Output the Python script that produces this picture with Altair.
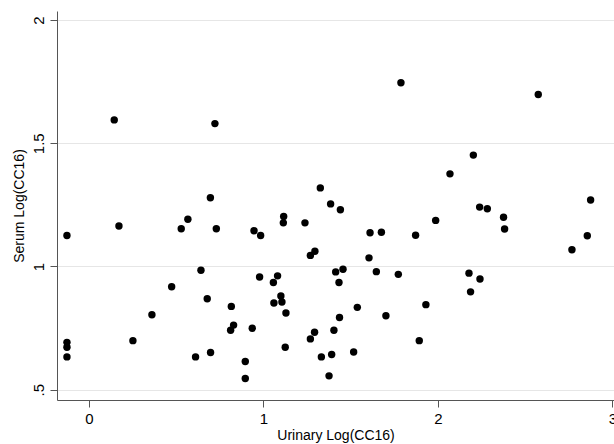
import altair as alt
import pandas as pd

urinary = [-0.126, -0.126, -0.126, -0.126, 0.145, 0.172, 0.252, 0.361, 0.474, 0.529,
           0.567, 0.611, 0.642, 0.678, 0.696, 0.697, 0.722, 0.730, 0.816, 0.829,
           0.812, 0.896, 0.896, 0.936, 0.946, 0.984, 0.978, 1.057, 1.081, 1.100,
           1.060, 1.106, 1.129, 1.116, 1.114, 1.125, 1.238, 1.269, 1.295, 1.269,
           1.293, 1.326, 1.332, 1.376, 1.385, 1.391, 1.404, 1.414, 1.441, 1.433,
           1.436, 1.456, 1.517, 1.538, 1.605, 1.611, 1.647, 1.676, 1.702, 1.773,
           1.788, 1.872, 1.893, 1.931, 1.987, 2.069, 2.178, 2.187, 2.203, 2.239,
           2.241, 2.283, 2.376, 2.382, 2.575, 2.768, 2.856, 2.875]
serum = [1.126, 0.692, 0.672, 0.633, 1.595, 1.164, 0.699, 0.804, 0.918, 1.153,
         1.192, 0.633, 0.985, 0.869, 1.279, 0.651, 1.580, 1.153, 0.838, 0.762,
         0.741, 0.614, 0.545, 0.749, 1.145, 1.126, 0.957, 0.935, 0.962, 0.880,
         0.852, 0.856, 0.811, 1.203, 1.177, 0.672, 1.177, 1.045, 1.062, 0.706,
         0.733, 1.319, 0.633, 0.556, 1.254, 0.643, 0.741, 0.978, 1.230, 0.935,
         0.793, 0.989, 0.653, 0.834, 1.035, 1.137, 0.979, 1.139, 0.800, 0.968,
         1.746, 1.127, 0.699, 0.845, 1.187, 1.376, 0.973, 0.897, 1.452, 1.241,
         0.949, 1.234, 1.200, 1.152, 1.698, 1.068, 1.125, 1.270]

x_ticks = [0, 1, 2, 3]
y_ticks = [0.5, 1, 1.5, 2]

df = pd.DataFrame({"u": urinary, "s": serum})

FONT = "Liberation Sans"

chart = alt.Chart(df).mark_circle(size=55, color="black", opacity=1).encode(
    x=alt.X("u:Q", scale=alt.Scale(domain=[-0.183, 3.009], nice=False, zero=False),
            axis=alt.Axis(values=x_ticks, title="Urinary Log(CC16)", grid=False,
                          tickSize=7, labelFontSize=15, labelPadding=4,
                          titleFontSize=14, titleFontWeight="normal", titlePadding=2,
                          domainColor="#555555", tickColor="#555555",
                          labelColor="black", titleColor="black",
                          labelFont=FONT, titleFont=FONT, format="d")),
    y=alt.Y("s:Q", scale=alt.Scale(domain=[0.458, 2.037], nice=False, zero=False),
            axis=alt.Axis(values=y_ticks, title="Serum Log(CC16)", grid=True,
                          gridColor="#e6e6e6", gridWidth=1,
                          tickSize=7, labelFontSize=15, labelAngle=270,
                          labelAlign="center", labelBaseline="alphabetic", labelPadding=7,
                          labelExpr="datum.value == 0.5 ? '.5' : format(datum.value, '')",
                          titleFontSize=14, titleFontWeight="normal", titlePadding=5,
                          domainColor="#555555", tickColor="#555555",
                          labelColor="black", titleColor="black",
                          labelFont=FONT, titleFont=FONT)),
).properties(
    width=557, height=389,
    autosize=alt.AutoSizeParams(type="none"),
    padding={"left": 57, "top": 11, "right": 0, "bottom": 44},
    background="white",
).configure_view(strokeWidth=0)

chart.save("out.html", embed_options={"renderer": "svg", "actions": False})
